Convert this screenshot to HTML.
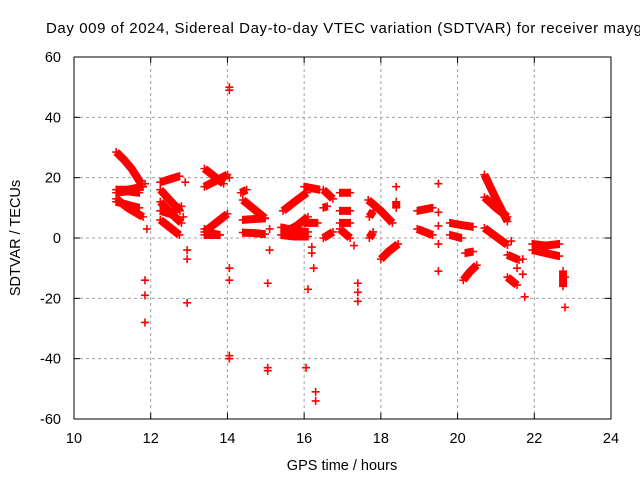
<!DOCTYPE html>
<html><head><meta charset="utf-8"><style>
body{margin:0;background:#fff;}
svg{display:block;font-family:"Liberation Sans",sans-serif;}
</style></head><body>
<svg id="chart" width="640" height="480">
<text x="46" y="33" font-size="15" textLength="596" lengthAdjust="spacing" fill="#000">Day 009 of 2024, Sidereal Day-to-day VTEC variation (SDTVAR) for receiver mayg</text>
<text transform="translate(20,238) rotate(-90)" text-anchor="middle" font-size="14.5">SDTVAR / TECUs</text>
<text x="342" y="470" text-anchor="middle" font-size="14.5">GPS time / hours</text>
<g id="grid"></g><g id="ticks"></g><g id="marks"></g>
<rect x="74" y="57" width="537" height="362" fill="none" stroke="#000" stroke-width="1"/>
</svg>
<script>
const xTicks=[10,12,14,16,18,20,22,24];
const yTicks=[-60,-40,-20,0,20,40,60];
// tracks: each array of [hour, TECU]
const tracks=[
[[11.1,28.5],[11.3,26],[11.5,23],[11.75,18]],
[[11.1,16],[11.4,16],[11.8,17]],
[[11.1,15],[11.4,15.5],[11.7,15]],
[[11.1,13],[11.4,10],[11.8,7]],
[[11.1,12],[11.4,11],[11.7,10]],
[[12.25,18.5],[12.5,19.5],[12.75,20.5]],
[[12.25,16],[12.5,12.5],[12.76,9]],
[[12.25,12],[12.5,8.5],[12.8,5]],
[[12.25,9],[12.5,8],[12.8,10.5]],
[[12.25,6],[12.5,3.5],[12.75,1]],
[[13.4,23],[13.65,20.5],[13.9,18]],
[[13.4,17],[13.7,19],[14,21]],
[[13.4,1],[13.6,1],[13.8,1]],
[[13.4,3],[13.6,1.5],[13.8,1]],
[[13.4,2],[13.7,5],[14,8]],
[[14.35,15],[14.5,16]],
[[14.4,12.6],[14.7,9.5],[14.98,6.6]],
[[14.4,6],[14.7,6.3],[14.98,6.5]],
[[14.4,1.8],[14.7,1.6],[14.98,1.3]],
[[15.45,9],[15.75,12],[16.07,15]],
[[15.4,3.5],[15.75,2.5],[16.1,2]],
[[15.4,1],[15.75,0.5],[16.1,0.5]],
[[15.5,2],[15.8,4],[16.1,7]],
[[16,17],[16.2,16.5],[16.4,16]],
[[16,5],[16.2,5],[16.35,5]],
[[16.5,16],[16.75,13]],
[[16.5,10],[16.6,10.5]],
[[16.5,0],[16.75,2]],
[[16.93,15],[17.2,15]],
[[16.93,9],[17.2,9]],
[[16.93,5],[17.2,5]],
[[16.93,3],[17.2,0]],
[[17.67,12.6],[18,9],[18.3,5]],
[[17.7,7],[17.8,9]],
[[17.7,0],[17.8,2]],
[[18,-7],[18.2,-4.5],[18.45,-2]],
[[18.4,12],[18.4,10]],
[[18.95,9],[19.15,9.5],[19.35,10]],
[[18.95,3],[19.15,2],[19.35,1]],
[[19.8,5],[20.1,4.3],[20.4,3.7]],
[[19.8,1],[20.1,0]],
[[20.15,-14],[20.3,-11.5],[20.5,-9]],
[[20.2,-5],[20.4,-4.5]],
[[20.7,21],[21,13],[21.3,5.5]],
[[20.7,13.5],[21,10],[21.3,7]],
[[20.7,3.3],[21,0.5],[21.3,-2.3]],
[[21.3,-5.6],[21.6,-7.3]],
[[21.3,-13],[21.55,-15.6]],
[[21.95,-2],[22.3,-2.5],[22.65,-2]],
[[21.95,-4],[22.3,-5],[22.65,-6]],
[[22.75,-11],[22.75,-16]]
];
const outliers=[[11.85,18],[11.9,3],[11.85,-14],[11.85,-19],[11.85,-28],[12.9,18.5],[12.85,7],[12.95,-4],[12.95,-7],[12.95,-21.5],
[14.05,20],[14.05,50],[14.05,49],[14.05,-10],[14.05,-14],[14.05,-39],[14.05,-40],
[15.1,3],[15.1,-4],[15.05,-15],[15.05,-44],[15.05,-43],
[16.2,-3],[16.2,-5],[16.25,-10],[16.1,-17],[16.05,-43],[16.3,-51],[16.3,-54],
[17.3,-2.5],[17.4,-15],[17.4,-18],[17.4,-21],[18.4,17],[19.5,18],[19.5,8.5],[19.5,4],[19.5,-2],[19.5,-11],
[21.4,-1],[21.7,-7],[21.55,-10],[21.7,-12],[21.75,-19.5],[22.8,-23],[22.8,-13]];
const X=v=>74+(v-10)*537/14, Y=v=>238-v*362/120;
const NS="http://www.w3.org/2000/svg";
const grid=document.getElementById('grid'),ticks=document.getElementById('ticks'),marks=document.getElementById('marks');
function mk(tag,attrs,parent){const e=document.createElementNS(NS,tag);for(const k in attrs)e.setAttribute(k,attrs[k]);parent.appendChild(e);return e;}
xTicks.forEach(t=>{const x=X(t);
 if(t>10&&t<24){const g=mk('line',{x1:x,x2:x,y1:57,y2:419,stroke:'#a0a0a0','stroke-dasharray':'3,3'},grid);
 
 }
 mk('line',{x1:x,x2:x,y1:419,y2:413,stroke:'#000'},ticks);mk('line',{x1:x,x2:x,y1:57,y2:63,stroke:'#000'},ticks);
 const l=mk('text',{x:x,y:443,'text-anchor':'middle','font-size':'14.5'},ticks);l.textContent=t;
 
 });
yTicks.forEach(t=>{const y=Y(t);
 if(t>-60&&t<60){const g=mk('line',{x1:74,x2:611,y1:y,y2:y,stroke:'#a0a0a0','stroke-dasharray':'3,3'},grid);
 
 }
 mk('line',{x1:74,x2:80,y1:y,y2:y,stroke:'#000'},ticks);mk('line',{x1:611,x2:605,y1:y,y2:y,stroke:'#000'},ticks);
 const l=mk('text',{x:61,y:y+5,'text-anchor':'end','font-size':'14.5'},ticks);l.textContent=t;
 
 });
function plus(t,v){const x=X(t),y=Y(v);
 const p=mk('path',{d:`M${x-4},${y}H${x+4}M${x},${y-4}V${y+4}`,stroke:'#f00','stroke-width':'1.6'},marks);
 
 }
tracks.forEach(tr=>{
 const pl=mk('polyline',{points:tr.map(p=>X(p[0])+','+Y(p[1])).join(' '),fill:'none',stroke:'#f00','stroke-width':'8','stroke-linejoin':'round'},marks);
 
 
 tr.forEach(p=>plus(p[0],p[1]));});
outliers.forEach(p=>plus(p[0],p[1]));
</script>
</body></html>
